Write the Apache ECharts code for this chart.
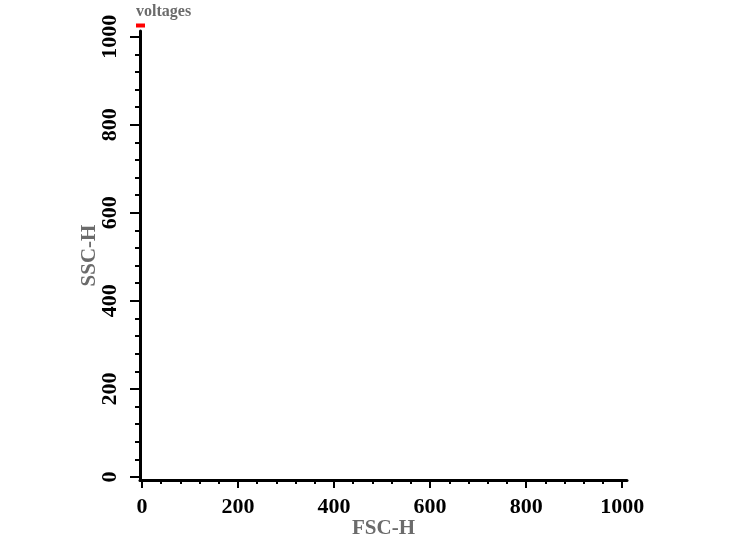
<!DOCTYPE html>
<html>
<head>
<meta charset="utf-8">
<script src="https://cdn.jsdelivr.net/npm/echarts@6/dist/echarts.min.js"></script>
<style>
  html, body { margin: 0; padding: 0; background: #fff; }
  #chart { width: 749px; height: 545px; }
</style>
</head>
<body>
<div id="chart"></div>
<script>
// Data (no visible points in the reference)
const seriesName = 'voltages';
const fscValues = [];
const sscValues = [];
// Tick labels
const xTicks = [0, 200, 400, 600, 800, 1000];
const yTicks = [0, 200, 400, 600, 800, 1000];
const xRange = [-4, 1010];
const yRange = [-7, 1013];

const FONT = '"Liberation Serif", "Times New Roman", serif';
const points = fscValues.map((v, i) => [v, sscValues[i]]);

const chart = echarts.init(document.getElementById('chart'), null, { renderer: 'canvas' });
chart.setOption({
  animation: false,
  backgroundColor: '#ffffff',
  grid: { left: 140, right: 122, top: 31, bottom: 65, containLabel: false, outerBoundsMode: 'none' },
  legend: {
    data: [seriesName],
    left: 130,
    top: 4,
    padding: 0,
    itemWidth: 1,
    itemHeight: 1,
    icon: 'rect',
    itemStyle: { opacity: 0 },
    formatter: function (name) { return '{t|' + name + '}\n{r|}'; },
    textStyle: {
      fontFamily: FONT, fontWeight: 'bold', fontSize: 16, color: '#6b6b6b',
      rich: {
        t: { fontFamily: FONT, fontWeight: 'bold', fontSize: 16, color: '#6b6b6b', lineHeight: 17 },
        r: { width: 9, height: 4, lineHeight: 10, backgroundColor: '#ff0000', padding: 0 }
      }
    }
  },
  xAxis: {
    type: 'value',
    min: xRange[0], max: xRange[1],
    name: 'FSC-H',
    nameLocation: 'middle',
    nameGap: 38,
    nameMoveOverlap: false,
    nameTextStyle: { fontFamily: FONT, fontWeight: 'bold', fontSize: 21, color: '#6b6b6b' },
    axisLine: { show: true, onZero: false, lineStyle: { color: '#000', width: 3 } },
    axisTick: { show: true, customValues: xTicks, length: 8, lineStyle: { color: '#000', width: 2 } },
    minorTick: { show: true, splitNumber: 5, length: 4, lineStyle: { color: '#000', width: 2 } },
    axisLabel: {
      customValues: xTicks, margin: 16, fontFamily: FONT, fontWeight: 'bold', fontSize: 22, color: '#000',
      formatter: function (v) { return String(v); }
    },
    splitLine: { show: false }
  },
  yAxis: {
    type: 'value',
    min: yRange[0], max: yRange[1],
    name: 'SSC-H',
    nameLocation: 'middle',
    nameGap: 40,
    nameMoveOverlap: false,
    nameTextStyle: { fontFamily: FONT, fontWeight: 'bold', fontSize: 21, color: '#6b6b6b' },
    axisLine: { show: true, onZero: false, lineStyle: { color: '#000', width: 3 } },
    axisTick: { show: true, customValues: yTicks, length: 10, lineStyle: { color: '#000', width: 2 } },
    minorTick: { show: true, splitNumber: 5, length: 5, lineStyle: { color: '#000', width: 2 } },
    axisLabel: {
      customValues: yTicks, rotate: 90, margin: 19, fontFamily: FONT, fontWeight: 'bold', fontSize: 22, color: '#000',
      formatter: function (v) { return String(v); }
    },
    splitLine: { show: false }
  },
  series: [{
    name: seriesName,
    type: 'scatter',
    symbolSize: 3,
    itemStyle: { color: '#ff0000' },
    data: points
  }]
});
</script>
</body>
</html>
